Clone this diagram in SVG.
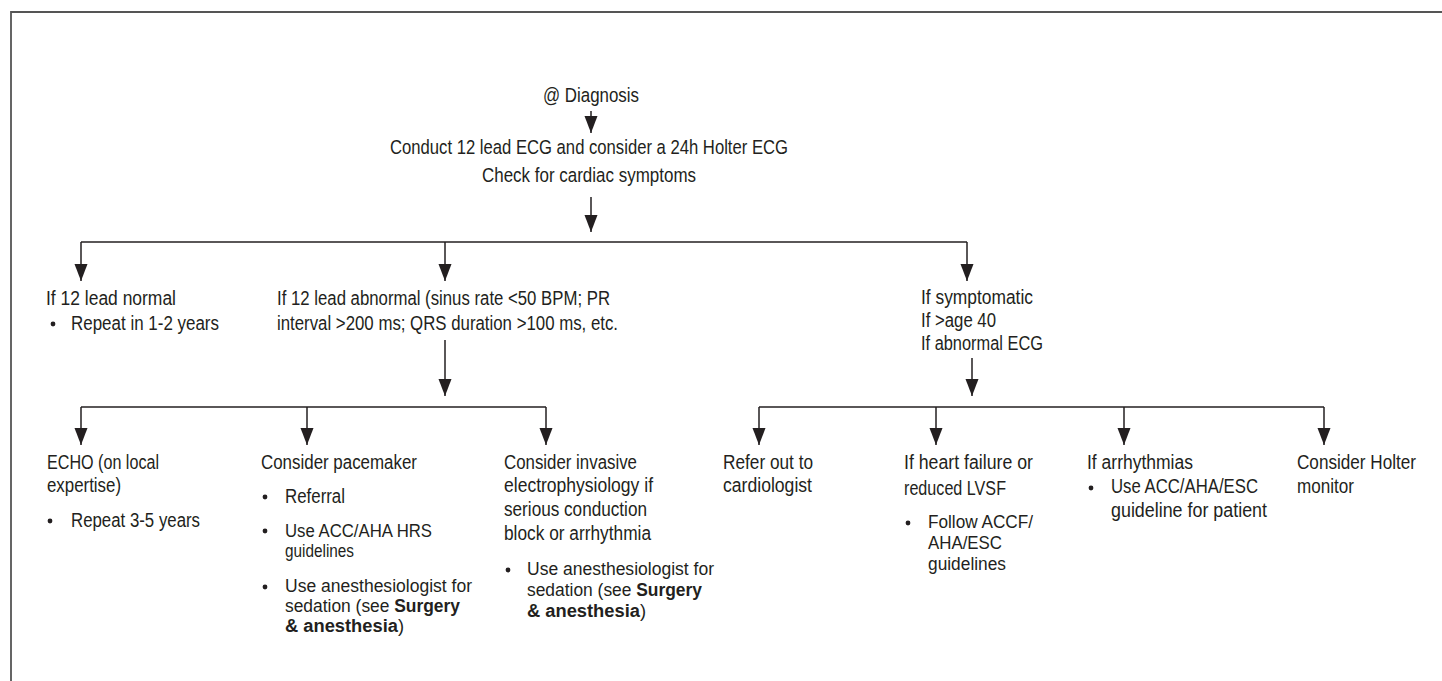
<svg xmlns="http://www.w3.org/2000/svg" width="1442" height="681" viewBox="0 0 1442 681">
<defs>
<style>
text{font-family:"Liberation Sans",Arial,sans-serif;font-size:20px;fill:#231f20;}
.t{font-size:20.5px;}
.s{font-size:17.5px;}
.b{font-weight:bold;}
.ln{fill:none;stroke:#231f20;stroke-width:1.5;}
.ar{fill:none;stroke:#231f20;stroke-width:1.5;marker-end:url(#ah);}
.frame{fill:none;stroke:#555;stroke-width:1.8;}
</style>
<marker id="ah" markerUnits="userSpaceOnUse" markerWidth="18" markerHeight="14" refX="17" refY="6.5" orient="auto" viewBox="0 0 18 14">
<path d="M0,0 L17,6.5 L0,13 z" fill="#231f20"/>
</marker>
</defs>
<rect width="1442" height="681" fill="#fff"/>
<path class="frame" d="M11,681 V12 H1442"/>

<g id="connectors">
<path class="ar" d="M591,111 V133"/>
<path class="ar" d="M591,197 V232"/>
<path class="ln" d="M81,242 H967"/>
<path class="ar" d="M81,242 V281"/>
<path class="ar" d="M445,242 V281"/>
<path class="ar" d="M967,242 V281"/>
<path class="ar" d="M445,340 V396"/>
<path class="ln" d="M81,407 H546"/>
<path class="ar" d="M81,407 V445"/>
<path class="ar" d="M307,407 V445"/>
<path class="ar" d="M546,407 V445"/>
<path class="ar" d="M972,358 V396"/>
<path class="ln" d="M759,407 H1324"/>
<path class="ar" d="M759,407 V445"/>
<path class="ar" d="M936,407 V445"/>
<path class="ar" d="M1124,407 V445"/>
<path class="ar" d="M1324,407 V445"/>
</g>

<g id="n-diagnosis">
<text class="t" x="591" y="102" text-anchor="middle" textLength="96" lengthAdjust="spacingAndGlyphs">@ Diagnosis</text>
</g>

<g id="n-conduct">
<text class="t" x="390" y="154" textLength="398" lengthAdjust="spacingAndGlyphs">Conduct 12 lead ECG and consider a 24h Holter ECG</text>
<text class="t" x="482" y="182" textLength="214" lengthAdjust="spacingAndGlyphs">Check for cardiac symptoms</text>
</g>

<g id="n-normal">
<text x="46" y="305" textLength="130" lengthAdjust="spacingAndGlyphs">If 12 lead normal</text>
<circle cx="53" cy="324" r="2.4" fill="#231f20"/>
<text x="71" y="330" textLength="148" lengthAdjust="spacingAndGlyphs">Repeat in 1-2 years</text>
</g>

<g id="n-abnormal">
<text x="277" y="305" textLength="333" lengthAdjust="spacingAndGlyphs">If 12 lead abnormal (sinus rate &lt;50 BPM; PR</text>
<text x="277" y="330" textLength="341" lengthAdjust="spacingAndGlyphs">interval &gt;200 ms; QRS duration &gt;100 ms, etc.</text>
</g>

<g id="n-symptomatic">
<text x="921" y="304" textLength="112" lengthAdjust="spacingAndGlyphs">If symptomatic</text>
<text x="921" y="327" textLength="75" lengthAdjust="spacingAndGlyphs">If &gt;age 40</text>
<text x="921" y="350" textLength="122" lengthAdjust="spacingAndGlyphs">If abnormal ECG</text>
</g>

<g id="n-echo">
<text x="47" y="469" textLength="112" lengthAdjust="spacingAndGlyphs">ECHO (on local</text>
<text x="47" y="492" textLength="74" lengthAdjust="spacingAndGlyphs">expertise)</text>
<circle cx="50" cy="521" r="2.4" fill="#231f20"/>
<text x="71" y="527" textLength="129" lengthAdjust="spacingAndGlyphs">Repeat 3-5 years</text>
</g>

<g id="n-pacemaker">
<text x="261" y="469" textLength="156" lengthAdjust="spacingAndGlyphs">Consider pacemaker</text>
<circle cx="265" cy="497" r="2.4" fill="#231f20"/>
<text x="285" y="503" textLength="60" lengthAdjust="spacingAndGlyphs">Referral</text>
<circle cx="265" cy="531" r="2.4" fill="#231f20"/>
<text class="s" x="285" y="537" textLength="147" lengthAdjust="spacingAndGlyphs">Use ACC/AHA HRS</text>
<text class="s" x="285" y="557" textLength="69" lengthAdjust="spacingAndGlyphs">guidelines</text>
<circle cx="265" cy="587" r="2.4" fill="#231f20"/>
<text class="s" x="285" y="592" textLength="187" lengthAdjust="spacingAndGlyphs">Use anesthesiologist for</text>
<text class="s" x="285" y="612" textLength="175" lengthAdjust="spacingAndGlyphs">sedation (see <tspan class="b">Surgery</tspan></text>
<text class="s" x="285" y="632" textLength="119" lengthAdjust="spacingAndGlyphs"><tspan class="b">&amp; anesthesia</tspan>)</text>
</g>

<g id="n-invasive">
<text x="504" y="469" textLength="133" lengthAdjust="spacingAndGlyphs">Consider invasive</text>
<text x="504" y="492" textLength="149" lengthAdjust="spacingAndGlyphs">electrophysiology if</text>
<text x="504" y="516" textLength="143" lengthAdjust="spacingAndGlyphs">serious conduction</text>
<text x="504" y="540" textLength="147" lengthAdjust="spacingAndGlyphs">block or arrhythmia</text>
<circle cx="508" cy="570" r="2.4" fill="#231f20"/>
<text class="s" x="527" y="575" textLength="187" lengthAdjust="spacingAndGlyphs">Use anesthesiologist for</text>
<text class="s" x="527" y="596" textLength="175" lengthAdjust="spacingAndGlyphs">sedation (see <tspan class="b">Surgery</tspan></text>
<text class="s" x="527" y="617" textLength="119" lengthAdjust="spacingAndGlyphs"><tspan class="b">&amp; anesthesia</tspan>)</text>
</g>

<g id="n-refer">
<text x="723" y="469" textLength="90" lengthAdjust="spacingAndGlyphs">Refer out to</text>
<text x="723" y="492" textLength="89" lengthAdjust="spacingAndGlyphs">cardiologist</text>
</g>

<g id="n-heartfailure">
<text x="904" y="469" textLength="129" lengthAdjust="spacingAndGlyphs">If heart failure or</text>
<text x="904" y="495" textLength="102" lengthAdjust="spacingAndGlyphs">reduced LVSF</text>
<circle cx="908" cy="523" r="2.4" fill="#231f20"/>
<text class="s" x="928" y="528" textLength="105" lengthAdjust="spacingAndGlyphs">Follow ACCF/</text>
<text class="s" x="928" y="549" textLength="74" lengthAdjust="spacingAndGlyphs">AHA/ESC</text>
<text class="s" x="928" y="570" textLength="78" lengthAdjust="spacingAndGlyphs">guidelines</text>
</g>

<g id="n-arrhythmias">
<text x="1087" y="469" textLength="106" lengthAdjust="spacingAndGlyphs">If arrhythmias</text>
<circle cx="1091" cy="488" r="2.4" fill="#231f20"/>
<text x="1111" y="493" textLength="147" lengthAdjust="spacingAndGlyphs">Use ACC/AHA/ESC</text>
<text x="1111" y="517" textLength="156" lengthAdjust="spacingAndGlyphs">guideline for patient</text>
</g>

<g id="n-holter">
<text x="1297" y="469" textLength="119" lengthAdjust="spacingAndGlyphs">Consider Holter</text>
<text x="1297" y="493" textLength="57" lengthAdjust="spacingAndGlyphs">monitor</text>
</g>
</svg>
